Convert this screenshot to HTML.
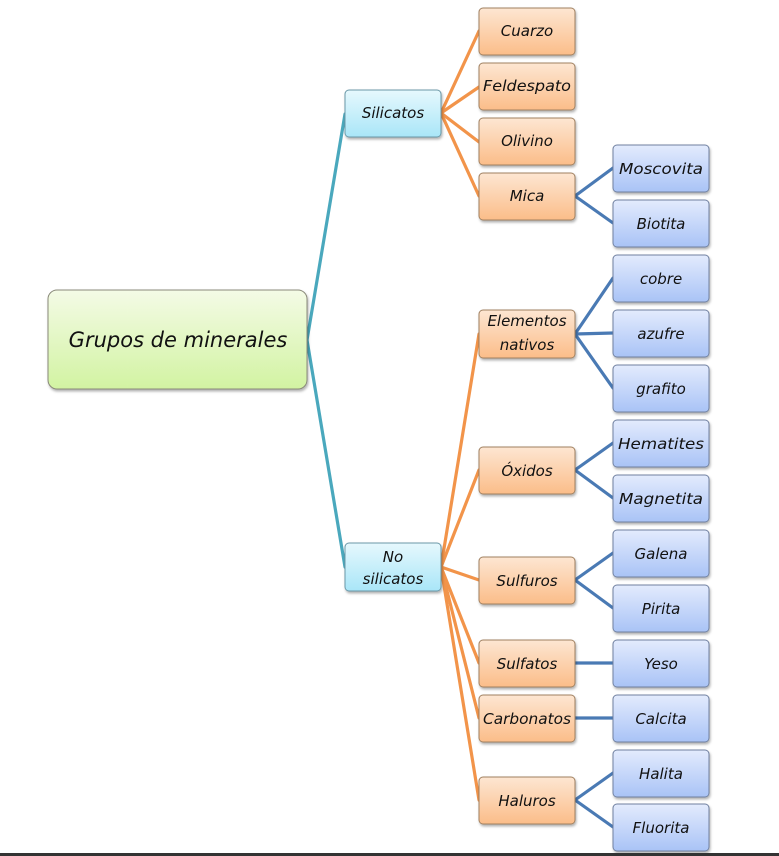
<!DOCTYPE html>
<html><head><meta charset="utf-8"><style>
html,body{margin:0;padding:0;background:#fff;}
svg{display:block;}
text{font-family:"DejaVu Sans","Liberation Sans",sans-serif;font-style:italic;fill:#111;text-anchor:middle;}
</style></head><body>
<svg width="779" height="856" viewBox="0 0 779 856" xmlns="http://www.w3.org/2000/svg">
<defs>
<linearGradient id="gr" x1="0" y1="0" x2="0" y2="1"><stop offset="0" stop-color="#f4fbe6"/><stop offset="1" stop-color="#d2f3a2"/></linearGradient>
<linearGradient id="cy" x1="0" y1="0" x2="0" y2="1"><stop offset="0" stop-color="#e6f8fd"/><stop offset="1" stop-color="#a9e6f8"/></linearGradient>
<linearGradient id="or" x1="0" y1="0" x2="0" y2="1"><stop offset="0" stop-color="#fde6d2"/><stop offset="1" stop-color="#fbbd89"/></linearGradient>
<linearGradient id="bl" x1="0" y1="0" x2="0" y2="1"><stop offset="0" stop-color="#e3ebfd"/><stop offset="1" stop-color="#a9c3f6"/></linearGradient>
<filter id="sh" x="-10%" y="-10%" width="130%" height="140%"><feDropShadow dx="1" dy="2" stdDeviation="1.2" flood-color="#000" flood-opacity="0.3"/></filter>
</defs>
<g fill="none" stroke-width="3.2" stroke-linecap="round">
<g stroke="#4aa8bd">
<line x1="307" y1="340" x2="345" y2="114"/>
<line x1="307" y1="340" x2="345" y2="567"/>
</g>
<g stroke="#f2944a">
<line x1="441" y1="113" x2="479" y2="31"/>
<line x1="441" y1="113" x2="479" y2="87"/>
<line x1="441" y1="113" x2="479" y2="142"/>
<line x1="441" y1="113" x2="479" y2="196"/>
<line x1="441" y1="567" x2="479" y2="334"/>
<line x1="441" y1="567" x2="479" y2="470"/>
<line x1="441" y1="567" x2="479" y2="580"/>
<line x1="441" y1="567" x2="479" y2="663"/>
<line x1="441" y1="567" x2="479" y2="718"/>
<line x1="441" y1="567" x2="479" y2="800"/>
</g>
<g stroke="#4a7ab4">
<line x1="575" y1="196" x2="613" y2="168"/>
<line x1="575" y1="196" x2="613" y2="223"/>
<line x1="575" y1="334" x2="613" y2="278"/>
<line x1="575" y1="334" x2="613" y2="333"/>
<line x1="575" y1="334" x2="613" y2="388"/>
<line x1="575" y1="470" x2="613" y2="443"/>
<line x1="575" y1="470" x2="613" y2="498"/>
<line x1="575" y1="580" x2="613" y2="553"/>
<line x1="575" y1="580" x2="613" y2="608"/>
<line x1="575" y1="663" x2="613" y2="663"/>
<line x1="575" y1="718" x2="613" y2="718"/>
<line x1="575" y1="800" x2="613" y2="773"/>
<line x1="575" y1="800" x2="613" y2="827"/>
</g>
</g>
<g filter="url(#sh)" stroke="#8a8a7a" stroke-width="1">
<rect x="48" y="290" width="259" height="99" rx="9" fill="url(#gr)"/>
<rect x="345" y="90" width="96" height="47" rx="4" fill="url(#cy)" stroke="#6a98a8"/>
<rect x="345" y="543" width="96" height="48" rx="4" fill="url(#cy)" stroke="#6a98a8"/>
<g fill="url(#or)" stroke="#a08060">
<rect x="479" y="8" width="96" height="47" rx="4"/>
<rect x="479" y="63" width="96" height="47" rx="4"/>
<rect x="479" y="118" width="96" height="47" rx="4"/>
<rect x="479" y="173" width="96" height="47" rx="4"/>
<rect x="479" y="310" width="96" height="48" rx="4"/>
<rect x="479" y="447" width="96" height="47" rx="4"/>
<rect x="479" y="557" width="96" height="47" rx="4"/>
<rect x="479" y="640" width="96" height="47" rx="4"/>
<rect x="479" y="695" width="96" height="47" rx="4"/>
<rect x="479" y="777" width="96" height="47" rx="4"/>
</g>
<g fill="url(#bl)" stroke="#7080a0">
<rect x="613" y="145" width="96" height="47" rx="4"/>
<rect x="613" y="200" width="96" height="47" rx="4"/>
<rect x="613" y="255" width="96" height="47" rx="4"/>
<rect x="613" y="310" width="96" height="47" rx="4"/>
<rect x="613" y="365" width="96" height="47" rx="4"/>
<rect x="613" y="420" width="96" height="47" rx="4"/>
<rect x="613" y="475" width="96" height="47" rx="4"/>
<rect x="613" y="530" width="96" height="47" rx="4"/>
<rect x="613" y="585" width="96" height="47" rx="4"/>
<rect x="613" y="640" width="96" height="47" rx="4"/>
<rect x="613" y="695" width="96" height="47" rx="4"/>
<rect x="613" y="750" width="96" height="47" rx="4"/>
<rect x="613" y="804" width="96" height="47" rx="4"/>
</g>
</g>
<text x="178" y="347" font-size="21">Grupos de minerales</text>
<g font-size="15">
<text x="393" y="118">Silicatos</text>
<text x="393" y="562">No</text>
<text x="393" y="584">silicatos</text>
<text x="527" y="36">Cuarzo</text>
<text x="527" y="91" textLength="88" lengthAdjust="spacingAndGlyphs">Feldespato</text>
<text x="527" y="146">Olivino</text>
<text x="527" y="201">Mica</text>
<text x="527" y="326">Elementos</text>
<text x="527" y="350">nativos</text>
<text x="527" y="476">Óxidos</text>
<text x="527" y="586">Sulfuros</text>
<text x="527" y="669">Sulfatos</text>
<text x="527" y="724" textLength="88" lengthAdjust="spacingAndGlyphs">Carbonatos</text>
<text x="527" y="806">Haluros</text>
<text x="661" y="174" textLength="84" lengthAdjust="spacingAndGlyphs">Moscovita</text>
<text x="661" y="229">Biotita</text>
<text x="661" y="284">cobre</text>
<text x="661" y="339">azufre</text>
<text x="661" y="394">grafito</text>
<text x="661" y="449" textLength="86" lengthAdjust="spacingAndGlyphs">Hematites</text>
<text x="661" y="504" textLength="84" lengthAdjust="spacingAndGlyphs">Magnetita</text>
<text x="661" y="559">Galena</text>
<text x="661" y="614">Pirita</text>
<text x="661" y="669">Yeso</text>
<text x="661" y="724">Calcita</text>
<text x="661" y="779">Halita</text>
<text x="661" y="833">Fluorita</text>
</g>
<rect x="0" y="853" width="779" height="3" fill="#333"/>
</svg>
</body></html>
